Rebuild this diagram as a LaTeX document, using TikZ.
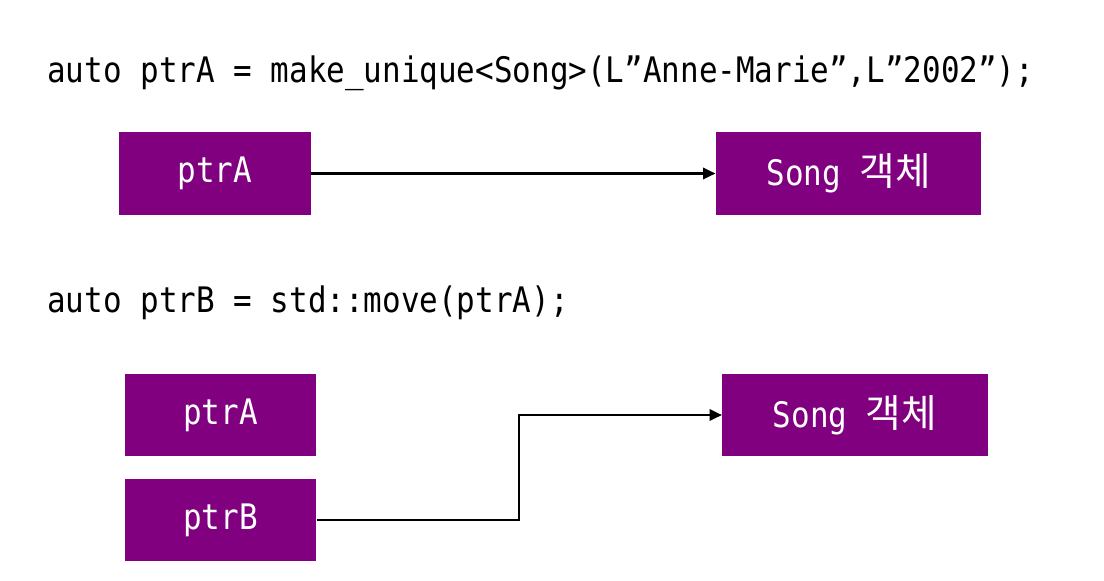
\documentclass[tikz,border=0pt]{standalone}
\usepackage{fontspec}
\setmonofont[FakeStretch=0.88]{DejaVu Sans Mono}
\newfontfamily\krfont[Scale=1.1]{Noto Sans CJK KR}
\usetikzlibrary{arrows.meta, positioning, calc}
\definecolor{boxpurple}{HTML}{800080}

\begin{document}
\begin{tikzpicture}[
        code/.style={anchor=base west, inner sep=0pt, font=\fontsize{20}{23}\selectfont\ttfamily},
        ptrbox/.style={rectangle, fill=boxpurple, text=white, minimum width=3.83cm, minimum height=1.65cm, inner sep=0pt, font=\fontsize{20}{23}\selectfont\ttfamily},
        objbox/.style={ptrbox, minimum width=5.31cm},
        arrow/.style={-{Triangle[length=7pt, width=6.5pt]}, line width=1.2pt, draw=black}
    ]
        \useasboundingbox (0,0) rectangle (22.08,-11.6);

        % before the move
        \node[code] (lineA) at (0.94,-1.64) {auto ptrA = make\_unique<Song>(L”Anne-Marie”,L”2002”);};
        \node[ptrbox] (ptrA) at (4.30,-3.47) {ptrA};
        \node[objbox] (songA) at (16.97,-3.47) {Song {\krfont 객체}};

        \draw[arrow] (ptrA) -- (songA);

        % after the move
        \node[code] (lineB) at (0.94,-6.24) {auto ptrB = std::move(ptrA);};
        \node[ptrbox] (ptrA2) at (4.41,-8.30) {ptrA};
        \node[ptrbox] (ptrB) at (4.41,-10.40) {ptrB};
        \node[objbox] (songB) at (17.10,-8.30) {Song {\krfont 객체}};

        \draw[arrow] (ptrB.east) -- (10.38,-10.40) |- (songB.west);
    \end{tikzpicture}
\end{document}
